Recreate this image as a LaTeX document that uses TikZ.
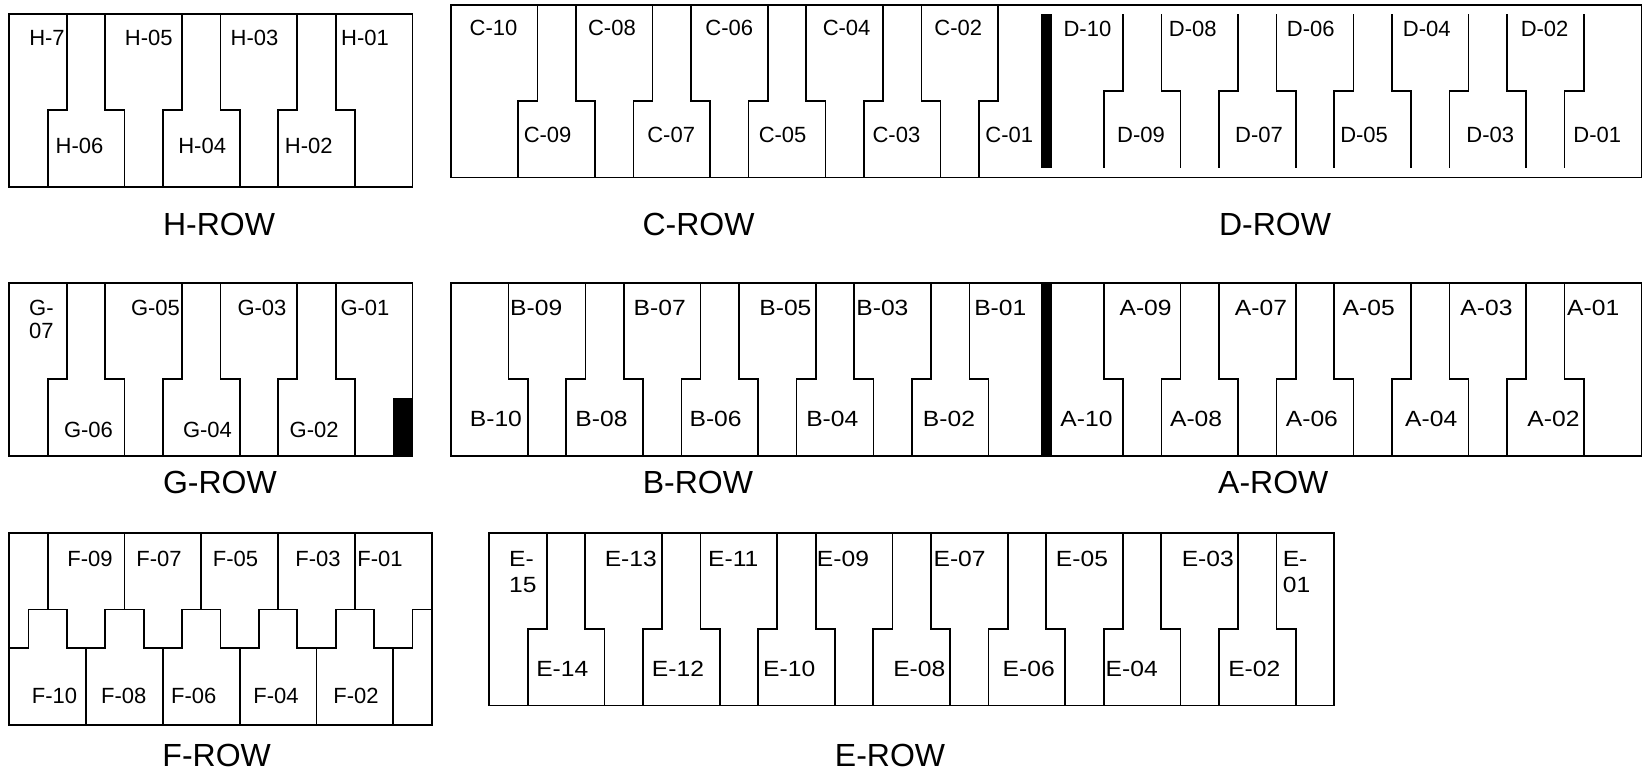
\documentclass[tikz,border=0pt]{standalone}
\usepackage{fontspec}
\setmainfont{Liberation Sans}
\newfontfamily\widesans{Liberation Sans}[FakeStretch=1.12]
\usepackage{tikz}

\tikzset{
	keyline/.style={line width=1.7pt},
	keybox/.style={line width=1.7pt},
	blackbar/.style={fill=black},
	keylabel/.style={font=\fontsize{22}{25}\selectfont, inner sep=0pt},
	widelabel/.style={font=\widesans\fontsize{22}{25}\selectfont, inner sep=0pt},
	rowlabel/.style={font=\fontsize{32}{36}\selectfont, inner sep=0pt}
}

\begin{document}
\begin{tikzpicture}[x=1pt, y=-1pt]
	\path [use as bounding box] (0,0) rectangle (1642,775);

	% H row
	\begin{scope}[shift={(9.3,14)}, x=38.4pt, y=-38.4pt]
		\draw[keybox] (0,0) rectangle (10.5,4.5);
		\foreach \j in {0,1,2} {
			\draw[keyline] (1.5+3*\j,0) |- (1+3*\j,2.5) -- (1+3*\j,4.5);
			\draw[keyline] (2.5+3*\j,0) |- (3+3*\j,2.5) -- (3+3*\j,4.5);
		}
	\end{scope}

	% G row
	\begin{scope}[shift={(9.3,283.3)}, x=38.4pt, y=-38.4pt]
		\draw[keybox] (0,0) rectangle (10.5,4.5);
		\foreach \j in {0,1,2} {
			\draw[keyline] (1.5+3*\j,0) |- (1+3*\j,2.5) -- (1+3*\j,4.5);
			\draw[keyline] (2.5+3*\j,0) |- (3+3*\j,2.5) -- (3+3*\j,4.5);
		}
		\fill[blackbar] (10,3) rectangle (10.5,4.5);
	\end{scope}

	% C and D rows
	\begin{scope}[shift={(451,4.7)}, x=38.4pt, y=-38.4pt]
		\draw[keybox] (0,0) rectangle (31,4.5);
		\foreach \j in {0,...,4}
			\draw[keyline] (2.25+3*\j,0) |- (1.75+3*\j,2.5) -- (1.75+3*\j,4.5);
		\foreach \j in {0,...,3}
			\draw[keyline] (3.25+3*\j,0) |- (3.75+3*\j,2.5) -- (3.75+3*\j,4.5);
		\fill[blackbar] (15.36,0.25) rectangle (15.66,4.25);
		\foreach \j in {0,...,4}
			\draw[keyline] (17.5+3*\j,0.25) |- (17+3*\j,2.25) -- (17+3*\j,4.25);
		\foreach \j in {0,...,3}
			\draw[keyline] (18.5+3*\j,0.25) |- (19+3*\j,2.25) -- (19+3*\j,4.25);
	\end{scope}

	% B and A rows
	\begin{scope}[shift={(451,283.3)}, x=38.4pt, y=-38.4pt]
		\draw[keybox] (0,0) rectangle (31,4.5);
		\foreach \j in {0,...,4}
			\draw[keyline] (1.5+3*\j,0) |- (2+3*\j,2.5) -- (2+3*\j,4.5);
		\foreach \j in {0,...,3}
			\draw[keyline] (3.5+3*\j,0) |- (3+3*\j,2.5) -- (3+3*\j,4.5);
		\fill[blackbar] (15.36,0) rectangle (15.66,4.5);
		\foreach \j in {0,...,4}
			\draw[keyline] (17+3*\j,0) |- (17.5+3*\j,2.5) -- (17.5+3*\j,4.5);
		\foreach \j in {0,...,3}
			\draw[keyline] (19+3*\j,0) |- (18.5+3*\j,2.5) -- (18.5+3*\j,4.5);
	\end{scope}

	% F row
	\begin{scope}[shift={(9.3,532.7)}, x=38.4pt, y=-38.4pt]
		\draw[keybox] (0,0) rectangle (11,5);
		\foreach \k in {1,3,5,7,9}
			\draw[keyline] (\k,0) -- (\k,2);
		\foreach \k in {2,4,6,8,10}
			\draw[keyline] (\k,3) -- (\k,5);
		\draw[keyline] (0,3) -- (0.5,3) foreach \k in {0,...,4} {
			-- (0.5+2*\k,2) -- (1.5+2*\k,2) -- (1.5+2*\k,3) -- (2.5+2*\k,3) } -- (10.5,2) -- (11,2);
	\end{scope}

	% E row
	\begin{scope}[shift={(489.3,532.7)}, x=38.4pt, y=-38.4pt]
		\draw[keybox] (0,0) rectangle (22,4.5);
		\foreach \j in {0,...,6} {
			\draw[keyline] (1.5+3*\j,0) |- (1+3*\j,2.5) -- (1+3*\j,4.5);
			\draw[keyline] (2.5+3*\j,0) |- (3+3*\j,2.5) -- (3+3*\j,4.5);
		}
	\end{scope}

	% key labels
	\foreach \name/\x in {H-7/47, H-05/148.8, H-03/254.5, H-01/365}
		\node[keylabel] (\name) at (\x,37.7) {\name};
	\foreach \name/\x in {H-06/79.5, H-04/202.2, H-02/308.8}
		\node[keylabel] (\name) at (\x,145.5) {\name};
	\foreach \name/\x in {C-10/493.5, C-08/611.9, C-06/729.3, C-04/846.6, C-02/958.2}
		\node[keylabel] (\name) at (\x,28.3) {\name};
	\foreach \name/\x in {C-09/547.6, C-07/671.2, C-05/782.6, C-03/896.4, C-01/1009.3}
		\node[keylabel] (\name) at (\x,135) {\name};
	\foreach \name/\x in {D-10/1087.4, D-08/1192.8, D-06/1310.8, D-04/1426.8, D-02/1544.6}
		\node[keylabel] (\name) at (\x,29) {\name};
	\foreach \name/\x in {D-09/1141, D-07/1259, D-05/1364.1, D-03/1490.3, D-01/1597.2}
		\node[keylabel] (\name) at (\x,135) {\name};

	\node[keylabel, font=\fontsize{22}{23.7}\selectfont, align=left, anchor=north west] (G-07) at (29,299.5) {G-\\07};
	\foreach \name/\x in {G-05/155.5, G-03/262, G-01/365}
		\node[keylabel] (\name) at (\x,307.5) {\name};
	\foreach \name/\x in {G-06/88.5, G-04/207.5, G-02/314.2}
		\node[keylabel] (\name) at (\x,429.7) {\name};
	\foreach \name/\x in {B-09/536.2, B-07/659.7, B-05/785.4, B-03/882.4, B-01/1000.3,
			A-09/1145.6, A-07/1261, A-05/1368.7, A-03/1486.5, A-01/1593.2}
		\node[widelabel] (\name) at (\x,308.3) {\name};
	\foreach \name/\x in {B-10/495.9, B-08/601.5, B-06/715.6, B-04/832.3, B-02/949,
			A-10/1086.5, A-08/1196.1, A-06/1311.9, A-04/1431.2, A-02/1553.5}
		\node[widelabel] (\name) at (\x,419.3) {\name};

	\foreach \name/\x in {F-09/90, F-07/159, F-05/235.5, F-03/318, F-01/380}
		\node[keylabel] (\name) at (\x,559.2) {\name};
	\foreach \name/\x in {F-10/54.5, F-08/123.7, F-06/193.7, F-04/276, F-02/356}
		\node[keylabel] (\name) at (\x,695.8) {\name};

	\node[widelabel, font=\widesans\fontsize{22}{25.8}\selectfont, align=left, anchor=north west] (E-15) at (509,551.3) {E-\\15};
	\node[widelabel, font=\widesans\fontsize{22}{25.8}\selectfont, align=left, anchor=north west] (E-01) at (1282.6,551.3) {E-\\01};
	\foreach \name/\x in {E-13/630.8, E-11/733.3, E-09/843, E-07/959.6, E-05/1082, E-03/1207.8}
		\node[widelabel] (\name) at (\x,559.2) {\name};
	\foreach \name/\x in {E-14/562.3, E-12/678, E-10/789.2, E-08/919.3, E-06/1028.7, E-04/1131.7, E-02/1254.3}
		\node[widelabel] (\name) at (\x,669.2) {\name};

	% row captions
	\node[rowlabel] (hrow) at (219,224.5) {H-ROW};
	\node[rowlabel] (crow) at (698.5,224.5) {C-ROW};
	\node[rowlabel] (drow) at (1275,224.5) {D-ROW};
	\node[rowlabel] (grow) at (219.9,482.2) {G-ROW};
	\node[rowlabel] (brow) at (697.9,482.2) {B-ROW};
	\node[rowlabel] (arow) at (1273.3,482.2) {A-ROW};
	\node[rowlabel] (frow) at (216.7,755.8) {F-ROW};
	\node[rowlabel] (erow) at (890,755.8) {E-ROW};
\end{tikzpicture}
\end{document}
